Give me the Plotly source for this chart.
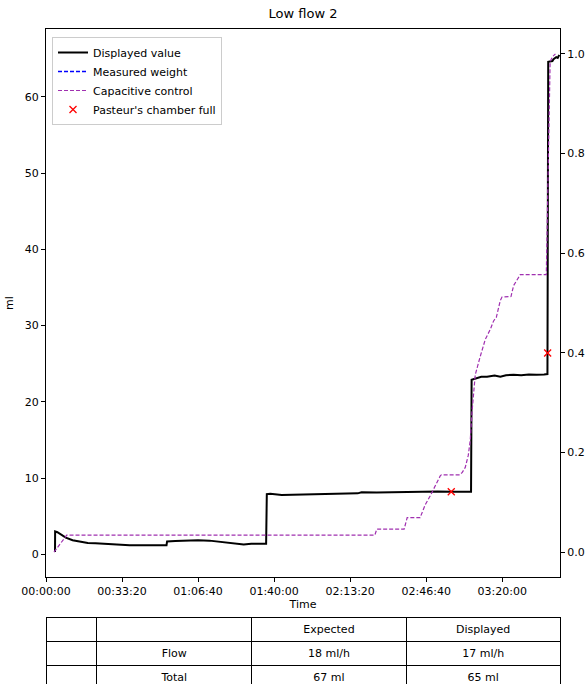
import plotly.graph_objects as go

# ---------------- data ----------------
disp_t = [237, 240, 300, 400, 520, 700, 900, 1100, 1300, 1600, 1900, 2200, 2500, 2800, 3050, 3170,
          3185, 3400, 3700, 4000, 4300, 4600, 4900, 5200, 5400, 5600, 5790,
          5808, 5900, 6200, 6600, 7000, 7400, 7800, 8200, 8300, 8700, 9100, 9500, 9900, 10300, 10700,
          11000, 11180, 11195, 11300, 11450, 11600, 11800, 11950, 12100, 12300, 12500, 12700, 12900,
          13100, 13190, 13210, 13320, 13350, 13420, 13460, 13500]
disp_v = [0.3, 3.0, 2.9, 2.6, 2.2, 1.85, 1.65, 1.5, 1.45, 1.35, 1.3, 1.2, 1.2, 1.15, 1.2, 1.2,
          1.7, 1.75, 1.8, 1.85, 1.8, 1.6, 1.5, 1.3, 1.4, 1.35, 1.4,
          7.9, 7.95, 7.8, 7.85, 7.9, 7.95, 8.0, 8.0, 8.15, 8.1, 8.15, 8.2, 8.2, 8.25, 8.2,
          8.25, 8.2, 22.9, 23.1, 23.3, 23.3, 23.45, 23.3, 23.5, 23.55, 23.5, 23.6, 23.55,
          23.6, 23.65, 64.6, 64.7, 64.95, 65.2, 65.1, 65.5]

# measured weight is not visible in the chart (legend entry only)
weight_t = [None]
weight_v = [None]

cap_t = [210, 545, 8650, 8700, 9420, 9500, 9840, 9900, 9975, 10107, 10240, 10370, 10400, 10880,
         10950, 11028, 11107, 11160, 11204, 11265, 11291, 11423, 11555, 11686, 11773, 11844,
         11950, 11994, 12231, 12300, 12431, 12476, 13160, 13200, 13260, 13330, 13400]
cap_v = [0.0, 0.034, 0.034, 0.046, 0.046, 0.069, 0.069, 0.08, 0.095, 0.113, 0.135, 0.153, 0.155, 0.155,
         0.16, 0.17, 0.194, 0.225, 0.28, 0.346, 0.356, 0.393, 0.427, 0.447, 0.464, 0.471,
         0.505, 0.512, 0.513, 0.535, 0.552, 0.557, 0.557, 0.7, 0.985, 0.995, 1.0]

full_t = [10660, 13195]
full_v = [8.2, 26.4]

x_tickvals = [0, 2000, 4000, 6000, 8000, 10000, 12000]
x_ticktext = ["00:00:00", "00:33:20", "01:06:40", "01:40:00", "02:13:20", "02:46:40", "03:20:00"]
y_tickvals = [0, 10, 20, 30, 40, 50, 60]
y2_tickvals = [0.0, 0.2, 0.4, 0.6, 0.8, 1.0]
y2_ticktext = ["0.0", "0.2", "0.4", "0.6", "0.8", "1.0"]

table_header = ["", "", "Expected", "Displayed"]
table_col0 = ["", ""]
table_col1 = ["Flow", "Total"]
table_expected = ["18 ml/h", "67 ml"]
table_displayed = ["17 ml/h", "65 ml"]

# ---------------- figure ----------------
W, H = 587, 684
FONT = "DejaVu Sans"
PX0, PX1 = 46, 560       # plot area x pixels
PY0, PY1 = 29, 577       # plot area y pixels (top, bottom)

fig = go.Figure()
fig.add_trace(go.Scatter(x=disp_t, y=disp_v, mode="lines", name="Displayed value",
                         line=dict(color="black", width=2)))
fig.add_trace(go.Scatter(x=weight_t, y=weight_v, mode="lines", name="Measured weight",
                         line=dict(color="#0000ff", width=1.3, dash="4px,2px")))
fig.add_trace(go.Scatter(x=cap_t, y=cap_v, mode="lines", name="Capacitive control", yaxis="y2",
                         line=dict(color="#a030b0", width=1.2, dash="4px,2px")))
fig.add_trace(go.Scatter(x=full_t, y=full_v, mode="markers", name="Pasteur's chamber full",
                         marker=dict(symbol="x-thin", size=7, color="red",
                                     line=dict(color="red", width=1.3))))

fig.add_trace(go.Table(
    domain=dict(x=[PX0 / W, PX1 / W], y=[0, (H - 617) / H]),
    columnwidth=[51, 155, 155, 154],
    header=dict(values=table_header, height=24, align="center",
                line=dict(color="black", width=1), fill=dict(color="white"),
                font=dict(family=FONT, size=11, color="black")),
    cells=dict(values=[table_col0, table_col1, table_expected, table_displayed], height=24,
               align="center", line=dict(color="black", width=1), fill=dict(color="white"),
               font=dict(family=FONT, size=11, color="black")),
))

axis_common = dict(showline=True, linecolor="black", linewidth=1, ticks="outside", ticklen=4,
                   tickwidth=1, tickcolor="black", showgrid=False, zeroline=False,
                   automargin=False,
                   tickfont=dict(family=FONT, size=11, color="black"))

fig.update_layout(
    width=W, height=H,
    margin=dict(l=0, r=0, t=0, b=0, autoexpand=False),
    paper_bgcolor="white", plot_bgcolor="white",
    font=dict(family=FONT, size=11, color="black"),
    title=dict(text="Low flow 2", x=(PX0 + PX1) / 2 / W, y=1 - 13 / H, xanchor="center",
               yanchor="middle", font=dict(family=FONT, size=13, color="black")),
    xaxis=dict(domain=[PX0 / W, PX1 / W], range=[0, 13520], tickvals=x_tickvals,
               ticktext=x_ticktext, mirror=True,
               title=dict(text="Time", font=dict(family=FONT, size=11), standoff=2),
               **axis_common),
    yaxis=dict(domain=[(H - PY1) / H, (H - PY0) / H], range=[-2.97, 68.9], tickvals=y_tickvals,
               title=dict(text="ml", font=dict(family=FONT, size=11), standoff=8),
               **axis_common),
    yaxis2=dict(overlaying="y", side="right", range=[-0.05, 1.05], tickvals=y2_tickvals,
                ticktext=y2_ticktext, anchor="x", **axis_common),
    legend=dict(x=52 / W, y=1 - 37 / H, xanchor="left", yanchor="top",
                bgcolor="rgba(255,255,255,0.8)", bordercolor="#cccccc", borderwidth=1,
                font=dict(family=FONT, size=11, color="black"), traceorder="normal",
                itemwidth=30),
    showlegend=True,
)

fig.write_html("out.html")
